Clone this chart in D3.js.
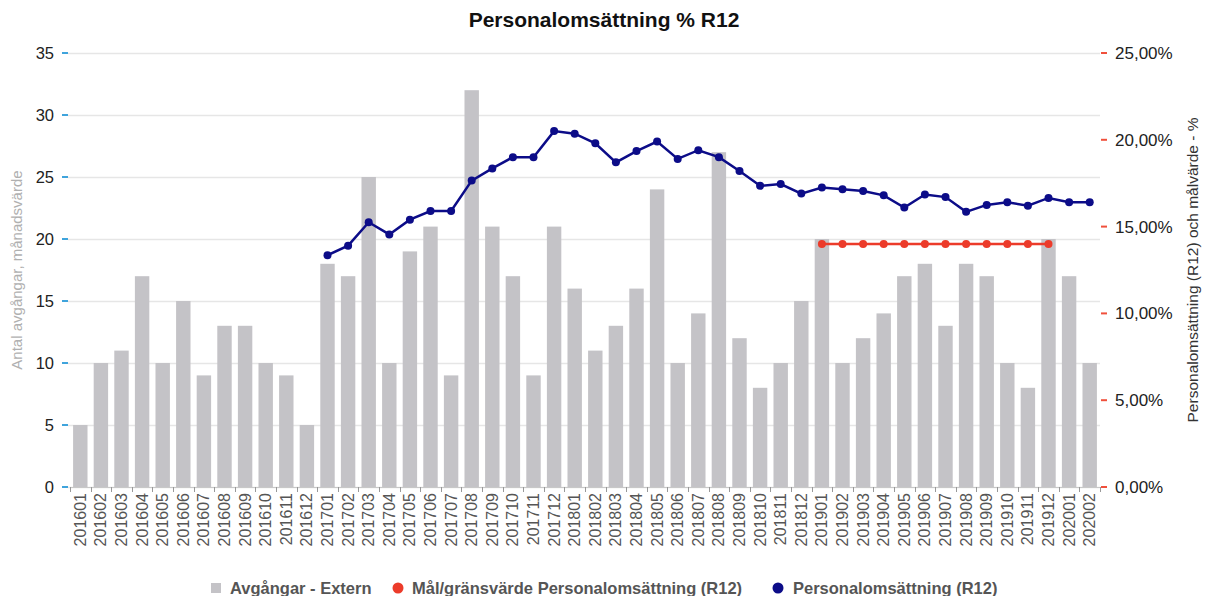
<!DOCTYPE html>
<html>
<head>
<meta charset="utf-8">
<script src="https://cdn.jsdelivr.net/npm/d3@7"></script>
<style>
  body { margin: 0; background: #fff; }
  svg { font-family: "Liberation Sans", Arial, sans-serif; }
</style>
</head>
<body>
<div id="chart"></div>
<script>
// månader 201601 .. 202002
const months = [
  "201601","201602","201603","201604","201605","201606","201607","201608","201609","201610","201611","201612",
  "201701","201702","201703","201704","201705","201706","201707","201708","201709","201710","201711","201712",
  "201801","201802","201803","201804","201805","201806","201807","201808","201809","201810","201811","201812",
  "201901","201902","201903","201904","201905","201906","201907","201908","201909","201910","201911","201912",
  "202001","202002"
];

// Avgångar - Extern (antal per månad)
const departures = [
  5, 10, 11, 17, 10, 15, 9, 13, 13, 10, 9, 5,
  18, 17, 25, 10, 19, 21, 9, 32, 21, 17, 9, 21,
  16, 11, 13, 16, 24, 10, 14, 27, 12, 8, 10, 15,
  20, 10, 12, 14, 17, 18, 13, 18, 17, 10, 8, 20,
  17, 10
];

// Personalomsättning (R12) i %, från 201701
const turnoverMonths = months.slice(12);
const turnover = [
  13.35, 13.9, 15.25, 14.55, 15.4, 15.9, 15.9, 17.65, 18.35, 19.0, 19.0, 20.5,
  20.35, 19.8, 18.7, 19.35, 19.9, 18.9, 19.4, 19.0, 18.2, 17.35, 17.45, 16.9,
  17.25, 17.15, 17.05, 16.8, 16.1, 16.85, 16.7, 15.85, 16.25, 16.4, 16.2, 16.65,
  16.4, 16.4
];

// Mål/gränsvärde (R12) i %, 201901 .. 201912
const targetMonths = months.slice(36, 48);
const target = [14, 14, 14, 14, 14, 14, 14, 14, 14, 14, 14, 14];

const leftTicks = [0, 5, 10, 15, 20, 25, 30, 35];
const rightTicks = [0, 5, 10, 15, 20, 25];

const W = 1205, H = 596;
const plot = { left: 70, right: 1100, top: 53, bottom: 487 };

const svg = d3.select("#chart").append("svg")
  .attr("width", W)
  .attr("height", H);

const x = d3.scaleBand()
  .domain(months)
  .range([plot.left, plot.right])
  .paddingInner(0.3)
  .paddingOuter(0.15);

const yL = d3.scaleLinear().domain([0, 35]).range([plot.bottom, plot.top]);
const yR = d3.scaleLinear().domain([0, 25]).range([plot.bottom, plot.top]);

// rutnät
svg.append("g")
  .selectAll("line")
  .data(leftTicks)
  .join("line")
  .attr("x1", plot.left - 2)
  .attr("x2", plot.right)
  .attr("y1", d => Math.round(yL(d)) + 0.5)
  .attr("y2", d => Math.round(yL(d)) + 0.5)
  .attr("stroke", "#e6e6e6")
  .attr("stroke-width", 1.5);

// staplar
svg.append("g")
  .selectAll("rect")
  .data(departures)
  .join("rect")
  .attr("x", (d, i) => x(months[i]))
  .attr("y", d => yL(d))
  .attr("width", x.bandwidth())
  .attr("height", d => yL(0) - yL(d))
  .attr("fill", "#c4c3c7");

// x-axel: streck mellan kategorierna
const xAxis = svg.append("g");
xAxis.append("line")
  .attr("x1", plot.left)
  .attr("x2", plot.right)
  .attr("y1", plot.bottom + 0.5)
  .attr("y2", plot.bottom + 0.5)
  .attr("stroke", "#c8c8c8");
xAxis.selectAll(".xtick")
  .data(months.concat(["end"]))
  .join("line")
  .attr("class", "xtick")
  .attr("x1", (d, i) => Math.round(plot.left + i * x.step()) + 0.5)
  .attr("x2", (d, i) => Math.round(plot.left + i * x.step()) + 0.5)
  .attr("y1", plot.bottom)
  .attr("y2", plot.bottom + 5)
  .attr("stroke", "#999");

xAxis.selectAll(".xlabel")
  .data(months)
  .join("text")
  .attr("class", "xlabel")
  .attr("transform", d => `translate(${x(d) + x.bandwidth() / 2 + 5.5}, ${plot.bottom + 6}) rotate(-90)`)
  .attr("text-anchor", "end")
  .attr("fill", "#555")
  .style("font-size", "16px")
  .text(d => d);

// vänster axel
const leftAxis = svg.append("g");
leftAxis.selectAll("line")
  .data(leftTicks)
  .join("line")
  .attr("x1", 62)
  .attr("x2", 68)
  .attr("y1", d => yL(d))
  .attr("y2", d => yL(d))
  .attr("stroke", "#3fa4dc")
  .attr("stroke-width", 2);
leftAxis.selectAll("text")
  .data(leftTicks)
  .join("text")
  .attr("x", 54)
  .attr("y", d => yL(d) + 6)
  .attr("text-anchor", "end")
  .attr("fill", "#222")
  .style("font-size", "16.5px")
  .text(d => d);

// höger axel
const rightAxis = svg.append("g");
rightAxis.selectAll("line")
  .data(rightTicks)
  .join("line")
  .attr("x1", 1101)
  .attr("x2", 1107)
  .attr("y1", d => yR(d))
  .attr("y2", d => yR(d))
  .attr("stroke", "#f0503c")
  .attr("stroke-width", 2);
rightAxis.selectAll("text")
  .data(rightTicks)
  .join("text")
  .attr("x", 1115)
  .attr("y", d => yR(d) + 6)
  .attr("fill", "#222")
  .style("font-size", "17px")
  .text(d => d.toFixed(2).replace(".", ",") + "%");

// axeltitlar
svg.append("text")
  .attr("transform", `translate(22, 270) rotate(-90)`)
  .attr("text-anchor", "middle")
  .attr("fill", "#b0b0b0")
  .style("font-size", "15px")
  .text("Antal avgångar, månadsvärde");

svg.append("text")
  .attr("transform", `translate(1198, 270) rotate(-90)`)
  .attr("text-anchor", "middle")
  .attr("fill", "#333")
  .style("font-size", "15.5px")
  .text("Personalomsättning (R12) och målvärde - %");

// linjer
const line = d3.line()
  .x(d => x(d.m) + x.bandwidth() / 2)
  .y(d => yR(d.v));

const targetData = targetMonths.map((m, i) => ({ m, v: target[i] }));
const turnoverData = turnoverMonths.map((m, i) => ({ m, v: turnover[i] }));

function drawSeries(data, color) {
  const g = svg.append("g");
  g.append("path")
    .datum(data)
    .attr("d", line)
    .attr("fill", "none")
    .attr("stroke", color)
    .attr("stroke-width", 2.5);
  g.selectAll("circle")
    .data(data)
    .join("circle")
    .attr("cx", d => x(d.m) + x.bandwidth() / 2)
    .attr("cy", d => yR(d.v))
    .attr("r", 4)
    .attr("fill", color);
}
drawSeries(targetData, "#ec3b2a");
drawSeries(turnoverData, "#0c0c88");

// titel
svg.append("text")
  .attr("x", 604)
  .attr("y", 27)
  .attr("text-anchor", "middle")
  .attr("fill", "#111")
  .style("font-size", "21px")
  .style("font-weight", "bold")
  .text("Personalomsättning % R12");

// förklaring
const legend = svg.append("g").style("font-size", "16.5px").style("font-weight", "bold");
legend.append("rect")
  .attr("x", 211).attr("y", 583).attr("width", 10).attr("height", 10)
  .attr("fill", "#c4c3c7");
legend.append("text")
  .attr("x", 230).attr("y", 594).attr("fill", "#555")
  .text("Avgångar - Extern");
legend.append("circle")
  .attr("cx", 398).attr("cy", 588).attr("r", 5.5)
  .attr("fill", "#ec3b2a");
legend.append("text")
  .attr("x", 412).attr("y", 594).attr("fill", "#555")
  .text("Mål/gränsvärde Personalomsättning (R12)");
legend.append("circle")
  .attr("cx", 778).attr("cy", 588).attr("r", 5.5)
  .attr("fill", "#0c0c88");
legend.append("text")
  .attr("x", 793).attr("y", 594).attr("fill", "#555")
  .text("Personalomsättning (R12)");
</script>
</body>
</html>
